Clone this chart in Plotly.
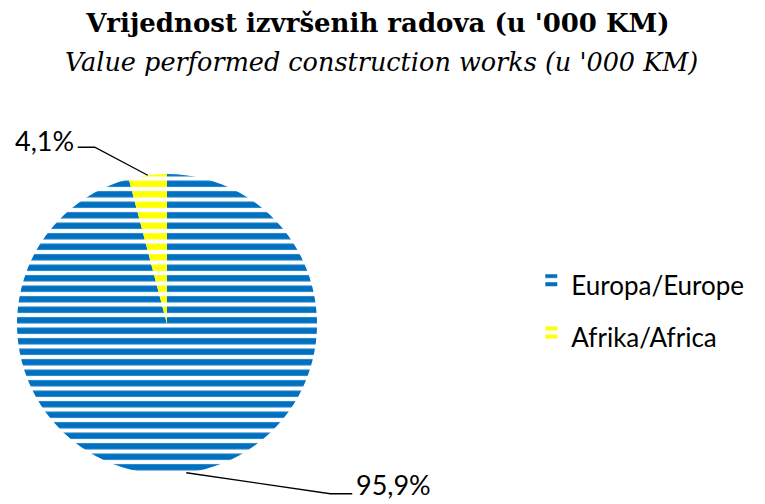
import math
import plotly.graph_objects as go

labels = ["Europa/Europe", "Afrika/Africa"]
values = [95.9, 4.1]
colors = ["#0070C0", "#FFFF00"]
label_texts = ["95,9%", "4,1%"]

title_text = "Vrijednost izvršenih radova (u '000 KM)"
subtitle_text = "Value performed construction works (u '000 KM)"

W, H = 765, 504
cx_px, cy_px, r_px = 167, 324, 150

legend_labels = [f'<span style="font-size:26px">{l}</span>' for l in labels]

fig = go.Figure()
fig.add_trace(go.Pie(
    labels=legend_labels, values=values, sort=False, direction="clockwise", rotation=0,
    textinfo="none", hovertemplate="%{percent}<extra></extra>",
    marker=dict(colors=colors,
                pattern=dict(shape="-", fgcolor=colors, bgcolor="white", size=10.5, solidity=0.6, fillmode="replace"),
                line=dict(width=0)),
    domain=dict(x=[(cx_px - r_px) / W, (cx_px + r_px) / W],
                y=[1 - (cy_px + r_px) / H, 1 - (cy_px - r_px) / H]),
))

# leader lines computed from slice mid-angles
total = sum(values)
cum = 0
offsets = {0: (144, 21, 22), 1: (-53, -28, -17)}  # (elbow dx, elbow dy, horizontal seg)
text_dy = {0: -9, 1: -7}
for i, v in enumerate(values):
    mid = (cum + v / 2) / total * 2 * math.pi
    cum += v
    ex = cx_px + r_px * math.sin(mid)
    ey = cy_px - r_px * math.cos(mid)
    dx, dy, hs = offsets[i]
    bx, by = ex + dx, ey + dy
    tx = bx + hs
    fig.add_shape(type="path",
                  path=f"M {ex/W} {1-ey/H} L {bx/W} {1-by/H} L {tx/W} {1-by/H}",
                  xref="paper", yref="paper", line=dict(color="black", width=1.3))
    fig.add_annotation(x=(tx + (2 if hs > 0 else -2)) / W, y=1 - (by + text_dy[i]) / H, xref="paper", yref="paper",
                       text=label_texts[i], showarrow=False,
                       xanchor="left" if hs > 0 else "right", yanchor="middle",
                       font=dict(family="Lato, Open Sans, sans-serif", size=27, color="black"))

# subtitle line
fig.add_annotation(x=0.499, y=1 - 62 / H, xref="paper", yref="paper", text=f"<i>{subtitle_text}</i>",
                   showarrow=False, xanchor="center", yanchor="middle",
                   font=dict(family="DejaVu Serif, serif", size=25.5, color="black"))

fig.update_layout(
    width=W, height=H,
    margin=dict(l=0, r=0, t=0, b=0),
    paper_bgcolor="white", plot_bgcolor="white",
    title=dict(text=f"<b>{title_text}</b>",
               x=0.494, xanchor="center", y=1 - 23 / H, yanchor="middle", yref="container",
               font=dict(family="DejaVu Serif, serif", size=26, color="black")),
    legend=dict(x=0.6945, y=0.392, xanchor="left", yanchor="middle",
                font=dict(family="Lato, Open Sans, sans-serif", size=38, color="black")),
    showlegend=True,
)

fig.write_html("out.html", post_script="document.body.style.margin='0';",
               config={"displayModeBar": False})
